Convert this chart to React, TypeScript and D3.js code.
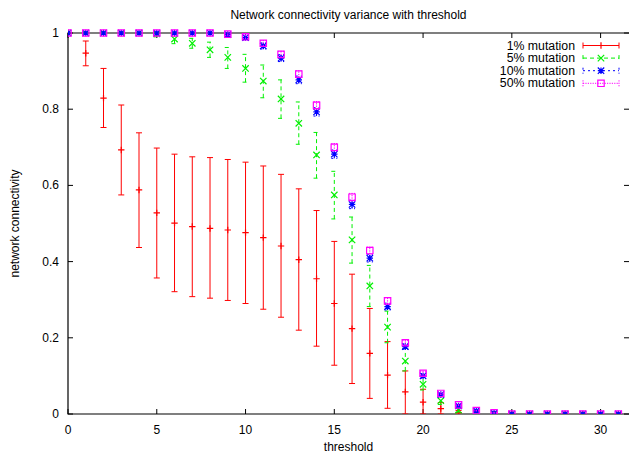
import React, { useEffect, useRef } from 'react';
import * as d3 from 'd3';

const thresholds = [
  0, 1, 2, 3, 4, 5, 6, 7, 8, 9, 10, 11, 12, 13, 14, 15, 16, 17, 18, 19, 20, 21,
  22, 23, 24, 25, 26, 27, 28, 29, 30, 31,
];

// 1% mutation
const mean1 = [
  1, 0.947, 0.829, 0.693, 0.588, 0.528, 0.501, 0.492, 0.487, 0.483, 0.476, 0.463,
  0.441, 0.405, 0.355, 0.29, 0.224, 0.159, 0.102, 0.058, 0.031, 0.014, 0.004,
  0.001, 0, 0, 0, 0, 0, 0, 0, 0,
];
const low1 = [
  1, 0.914, 0.752, 0.575, 0.437, 0.357, 0.321, 0.308, 0.304, 0.298, 0.29, 0.275,
  0.254, 0.22, 0.178, 0.128, 0.08, 0.041, 0.015, 0, 0, 0, 0, 0, 0, 0, 0, 0, 0, 0,
  0, 0,
];
const high1 = [
  1, 0.979, 0.907, 0.811, 0.738, 0.698, 0.682, 0.675, 0.673, 0.668, 0.661, 0.651,
  0.629, 0.591, 0.534, 0.453, 0.367, 0.277, 0.19, 0.113, 0.065, 0.03, 0.009,
  0.002, 0, 0, 0, 0, 0, 0, 0, 0,
];

// 5% mutation
const mean5 = [
  1, 1, 1, 1, 1, 0.998, 0.984, 0.973, 0.956, 0.936, 0.907, 0.874, 0.827, 0.763,
  0.68, 0.575, 0.457, 0.336, 0.228, 0.139, 0.078, 0.035, 0.01, 0.003, 0, 0, 0, 0,
  0, 0, 0, 0,
];
const low5 = [
  1, 1, 1, 1, 0.999, 0.99, 0.972, 0.96, 0.936, 0.907, 0.871, 0.83, 0.776, 0.708,
  0.619, 0.512, 0.396, 0.282, 0.187, 0.113, 0.063, 0.025, 0.005, 0.001, 0, 0, 0,
  0, 0, 0, 0, 0,
];
const high5 = [
  1, 1, 1, 1, 1, 1, 0.996, 0.986, 0.976, 0.962, 0.944, 0.916, 0.877, 0.819, 0.739,
  0.637, 0.517, 0.39, 0.27, 0.172, 0.098, 0.045, 0.015, 0.005, 0, 0, 0, 0, 0, 0,
  0, 0,
];

// 10% mutation
const mean10 = [
  1, 1, 1, 1, 1, 1, 1, 1, 1, 0.996, 0.988, 0.966, 0.934, 0.877, 0.793, 0.682,
  0.55, 0.409, 0.282, 0.177, 0.1, 0.051, 0.021, 0.008, 0.002, 0, 0, 0, 0, 0, 0, 0,
];
const low10 = [
  1, 1, 1, 1, 1, 1, 1, 1, 0.999, 0.992, 0.982, 0.958, 0.925, 0.867, 0.782, 0.671,
  0.539, 0.399, 0.273, 0.17, 0.094, 0.047, 0.018, 0.006, 0.001, 0, 0, 0, 0, 0, 0,
  0,
];
const high10 = [
  1, 1, 1, 1, 1, 1, 1, 1, 1, 1, 0.994, 0.974, 0.943, 0.887, 0.804, 0.693, 0.561,
  0.419, 0.291, 0.184, 0.106, 0.055, 0.024, 0.01, 0.003, 0, 0, 0, 0, 0, 0, 0,
];

// 50% mutation
const mean50 = [
  1, 1, 1, 1, 1, 1, 1, 1, 1, 0.997, 0.99, 0.973, 0.944, 0.892, 0.81, 0.7, 0.569,
  0.429, 0.297, 0.187, 0.107, 0.054, 0.024, 0.009, 0.003, 0, 0, 0, 0, 0, 0, 0,
];
const low50 = [
  1, 1, 1, 1, 1, 1, 1, 1, 1, 0.994, 0.985, 0.966, 0.936, 0.883, 0.8, 0.69, 0.559,
  0.42, 0.289, 0.181, 0.102, 0.051, 0.022, 0.008, 0.002, 0, 0, 0, 0, 0, 0, 0,
];
const high50 = [
  1, 1, 1, 1, 1, 1, 1, 1, 1, 1, 0.995, 0.98, 0.952, 0.901, 0.82, 0.71, 0.579,
  0.438, 0.305, 0.193, 0.112, 0.057, 0.026, 0.01, 0.004, 0, 0, 0, 0, 0, 0, 0,
];

const seriesNames = ['1% mutation', '5% mutation', '10% mutation', '50% mutation'];
const xTicks = [0, 5, 10, 15, 20, 25, 30];
const yTicks = [0, 0.2, 0.4, 0.6, 0.8, 1];

const colors = ['#ff0000', '#00f000', '#0000ff', '#ff00ff'];
const dashes = [null, '4,3', '2,3', '1.2,1.2'];
const markers = ['plus', 'cross', 'star', 'square'];

const FONT = '"Liberation Sans", Arial, sans-serif';

type Pt = { x: number; y: number; lo: number; hi: number };

function drawMarker(
  g: d3.Selection<SVGGElement, unknown, null, undefined>,
  kind: string,
  cx: number,
  cy: number,
  color: string,
) {
  const s = 3.2;
  const path = d3.path();
  if (kind === 'plus' || kind === 'star') {
    path.moveTo(cx - s, cy);
    path.lineTo(cx + s, cy);
    path.moveTo(cx, cy - s);
    path.lineTo(cx, cy + s);
  }
  if (kind === 'cross' || kind === 'star') {
    path.moveTo(cx - s, cy - s);
    path.lineTo(cx + s, cy + s);
    path.moveTo(cx - s, cy + s);
    path.lineTo(cx + s, cy - s);
  }
  if (kind === 'square') {
    path.rect(cx - s, cy - s, 2 * s, 2 * s);
  }
  g.append('path')
    .attr('d', path.toString())
    .attr('fill', 'none')
    .attr('stroke', color)
    .attr('stroke-width', 1.2);
}

export default function App() {
  const svgRef = useRef<SVGSVGElement>(null);

  useEffect(() => {
    if (!svgRef.current) return;
    const width = 629;
    const height = 455;
    const margin = { top: 33, right: 0, bottom: 41, left: 68 };

    d3.select(svgRef.current).selectAll('*').remove();
    const svg = d3.select(svgRef.current).attr('width', width).attr('height', height);

    const x = d3
      .scaleLinear()
      .domain([0, 31.6])
      .range([margin.left, width - margin.right]);
    const y = d3
      .scaleLinear()
      .domain([0, 1])
      .range([height - margin.bottom, margin.top]);

    const x0 = x.range()[0];
    const x1 = x.range()[1];
    const y0 = y.range()[0];
    const y1 = y.range()[1];

    // Title and axis labels
    svg
      .append('text')
      .attr('x', (x0 + x1) / 2)
      .attr('y', 19)
      .attr('text-anchor', 'middle')
      .attr('font-family', FONT)
      .attr('font-size', 12)
      .text('Network connectivity variance with threshold');
    svg
      .append('text')
      .attr('x', (x0 + x1) / 2)
      .attr('y', 451)
      .attr('text-anchor', 'middle')
      .attr('font-family', FONT)
      .attr('font-size', 12)
      .text('threshold');
    svg
      .append('text')
      .attr('transform', `translate(19,${(y0 + y1) / 2}) rotate(-90)`)
      .attr('text-anchor', 'middle')
      .attr('font-family', FONT)
      .attr('font-size', 12)
      .text('network connectivity');

    // Ticks (inside, mirrored)
    const axes = svg.append('g').attr('stroke', '#000').attr('stroke-width', 1);
    xTicks.forEach((t) => {
      axes.append('line').attr('x1', x(t)).attr('x2', x(t)).attr('y1', y0).attr('y2', y0 - 5);
      axes.append('line').attr('x1', x(t)).attr('x2', x(t)).attr('y1', y1).attr('y2', y1 + 5);
    });
    yTicks.forEach((t) => {
      axes.append('line').attr('x1', x0).attr('x2', x0 + 5).attr('y1', y(t)).attr('y2', y(t));
      axes.append('line').attr('x1', x1).attr('x2', x1 - 5).attr('y1', y(t)).attr('y2', y(t));
    });

    svg
      .append('g')
      .selectAll('text')
      .data(xTicks)
      .enter()
      .append('text')
      .attr('x', (d) => x(d))
      .attr('y', y0 + 20)
      .attr('text-anchor', 'middle')
      .attr('font-family', FONT)
      .attr('font-size', 12)
      .text((d) => String(d));
    svg
      .append('g')
      .selectAll('text')
      .data(yTicks)
      .enter()
      .append('text')
      .attr('x', x0 - 9)
      .attr('y', (d) => y(d) + 4)
      .attr('text-anchor', 'end')
      .attr('font-family', FONT)
      .attr('font-size', 12)
      .text((d) => String(d));

    // Border (left, bottom, top)
    svg
      .append('path')
      .attr('d', `M${x1},${y1}H${x0}V${y0}H${x1}`)
      .attr('fill', 'none')
      .attr('stroke', '#000')
      .attr('stroke-width', 1.2);

    svg
      .append('defs')
      .append('clipPath')
      .attr('id', 'plot-clip')
      .append('rect')
      .attr('x', x0)
      .attr('y', y1 - 6)
      .attr('width', x1 - x0)
      .attr('height', y0 - y1 + 6);

    const allSeries: Pt[][] = [
      [mean1, low1, high1],
      [mean5, low5, high5],
      [mean10, low10, high10],
      [mean50, low50, high50],
    ].map(([m, lo, hi]) =>
      thresholds.map((t, i) => ({ x: t, y: m[i], lo: lo[i], hi: hi[i] })),
    );

    const plot = svg.append('g').attr('clip-path', 'url(#plot-clip)');
    const cap = 3;

    allSeries.forEach((pts, si) => {
      const color = colors[si];
      const g = plot.append('g');
      pts.forEach((p) => {
        const px = x(p.x);
        if (y(p.lo) - y(p.hi) > 0.5) {
          const eb = g
            .append('path')
            .attr(
              'd',
              `M${px},${y(p.lo)}V${y(p.hi)}M${px - cap},${y(p.lo)}H${px + cap}M${px - cap},${y(p.hi)}H${px + cap}`,
            )
            .attr('fill', 'none')
            .attr('stroke', color)
            .attr('stroke-width', 1);
          if (dashes[si]) eb.attr('stroke-dasharray', dashes[si] as string);
        }
        drawMarker(g, markers[si], px, y(p.y), color);
      });
    });

    // Legend
    const legend = svg.append('g');
    seriesNames.forEach((name, i) => {
      const ly = 45.5 + i * 12.6;
      legend
        .append('text')
        .attr('x', 575)
        .attr('y', ly + 4)
        .attr('text-anchor', 'end')
        .attr('font-family', FONT)
        .attr('font-size', 12.3)
        .text(name);
      const lg = legend.append('g');
      const line = lg
        .append('path')
        .attr('d', `M583,${ly}H619M583,${ly - cap}V${ly + cap}M619,${ly - cap}V${ly + cap}`)
        .attr('fill', 'none')
        .attr('stroke', colors[i])
        .attr('stroke-width', 1);
      if (dashes[i]) line.attr('stroke-dasharray', dashes[i] as string);
      drawMarker(lg, markers[i], 601, ly, colors[i]);
    });
  }, []);

  return (
    <svg
      ref={svgRef}
      style={{ position: 'absolute', left: 0, top: 0, background: '#fff' }}
    ></svg>
  );
}
